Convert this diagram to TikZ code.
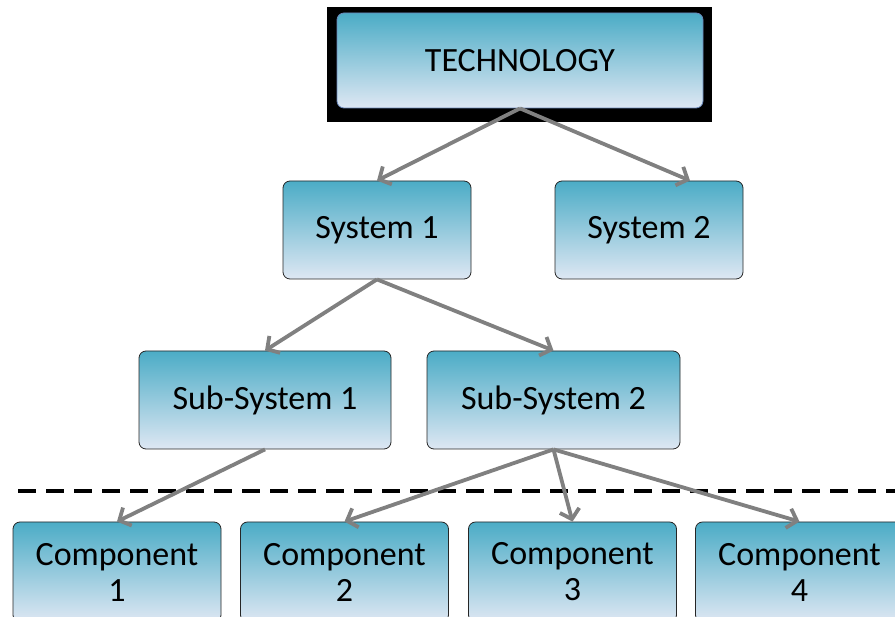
\documentclass[tikz,border=0pt]{standalone}
\usepackage{fontspec}
\setmainfont{Carlito}
\usetikzlibrary{arrows.meta}

\definecolor{boxtop}{RGB}{75,172,198}
\definecolor{boxmid}{RGB}{180,221,231}
\definecolor{boxbottom}{RGB}{222,231,243}
\definecolor{boxedge}{RGB}{105,135,185}
\definecolor{linkgray}{RGB}{128,128,128}

\tikzset{
  box/.style={rectangle, rounded corners=7pt, draw=black!85, line width=0.8pt,
    top color=boxtop, middle color=boxmid, bottom color=boxbottom,
    inner sep=0pt, align=center, font=\fontsize{34}{36}\selectfont},
  level/.style={box, minimum height=98pt},
  part/.style={box, minimum width=208pt, minimum height=100pt},
  link/.style={draw=linkgray, line width=3.8pt, ->},
  >={Straight Barb[length=9pt,width=20pt]},
}

\begin{document}
\begin{tikzpicture}[x=1pt,y=-1pt]
    \useasboundingbox (0,0) rectangle (895,617);
    \clip (0,0) rectangle (895,617);

    \fill [black] (327,7) rectangle (712,122);
    \node [box, minimum width=366pt, minimum height=95pt, draw=boxedge] (tech) at (520,60.5) {TECHNOLOGY};

    \node [level, minimum width=188pt] (sys1) at (377,230) {System 1};
    \node [level, minimum width=188pt] (sys2) at (649,230) {System 2};

    \node [level, minimum width=252pt] (sub1) at (265,400) {Sub-System 1};
    \node [level, minimum width=253pt] (sub2) at (553.5,400) {Sub-System 2};

    \draw [black, line width=4pt, dash pattern=on 18pt off 10pt] (18,491) -- (895,491);

    \node [part] (comp1) at (117,572) {Component\\1};
    \node [part] (comp2) at (344.5,572) {Component\\2};
    \node [part] (comp3) at (572.5,572) {Component\\3};
    \node [part] (comp4) at (799.5,572) {Component\\4};

    \draw [link] (tech.south) -- (sys1.north);
    \draw [link] (tech.south) -- ([xshift=41pt]sys2.north);
    \draw [link] (sys1.south) -- (sub1.north);
    \draw [link] (sys1.south) -- (sub2.north);
    \draw [link] (sub1.south) -- (comp1.north);
    \draw [link] (sub2.south) -- (comp2.north);
    \draw [link] (sub2.south) -- (comp3.north);
    \draw [link] (sub2.south) -- (comp4.north);
\end{tikzpicture}
\end{document}
